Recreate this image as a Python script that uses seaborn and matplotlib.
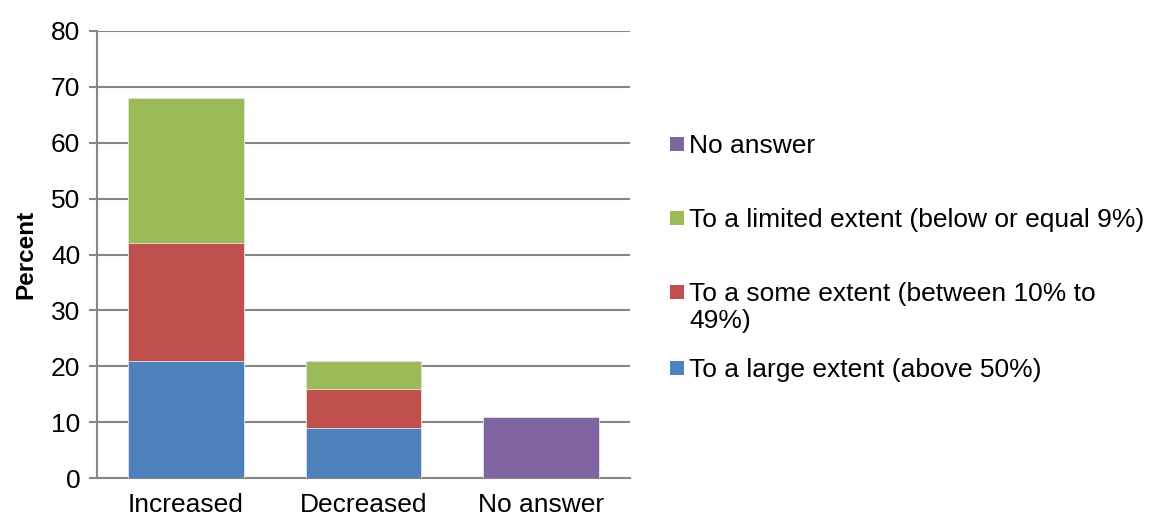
import numpy as np
import pandas as pd
import matplotlib
matplotlib.use("Agg")
import matplotlib.pyplot as plt
from matplotlib.patches import Rectangle
import seaborn as sns

# data
categories = ["Increased", "Decreased", "No answer"]
large_extent = [21, 9, 0]
some_extent = [21, 7, 0]
limited_extent = [26, 5, 0]
no_answer = [0, 0, 11]

series_names = ["To a large extent (above 50%)",
                "To a some extent (between 10% to\n49%)",
                "To a limited extent (below or equal 9%)",
                "No answer"]
colors = ["#4F81BD", "#C0504D", "#9BBB59", "#8064A2"]

sns.set_theme(style="white")
plt.rcParams["font.family"] = ["Liberation Sans", "DejaVu Sans"]
plt.rcParams["text.color"] = "black"

W, H = 1153, 519
df = pd.DataFrame({"category": categories,
                   series_names[0]: large_extent,
                   series_names[1]: some_extent,
                   series_names[2]: limited_extent,
                   series_names[3]: no_answer})

fig = plt.figure(figsize=(W / 100, H / 100), dpi=100)
ax = fig.add_axes([97 / W, 1 - 478 / H, 533 / W, 447 / H])

# stacked bars: draw cumulative totals from the top layer down
cum = df[series_names].cumsum(axis=1)
for name, c in reversed(list(zip(series_names, colors))):
    sns.barplot(x=df["category"], y=cum[name], color=c, width=0.65,
                edgecolor="#E6E6E6", linewidth=0.6, saturation=1, ax=ax,
                zorder=3)

ax.set_ylim(0, 80)
ax.set_yticks(np.arange(0, 81, 10))
ax.yaxis.grid(True, color="#868686", linewidth=1.5, zorder=0)
ax.set_axisbelow(True)
for s in ["top", "right"]:
    ax.spines[s].set_visible(False)
for s in ["left", "bottom"]:
    ax.spines[s].set_color("#868686")
    ax.spines[s].set_linewidth(1.5)
ax.tick_params(axis="y", left=True, length=6, width=1.5, color="#868686",
               labelsize=19, pad=6, labelcolor="black")
ax.tick_params(axis="x", bottom=False, labelsize=19, pad=5, labelcolor="black")
ax.set_xlabel("")
ax.set_ylabel("Percent", fontsize=17.5, fontweight="bold", labelpad=10,
              color="black")

# legend laid out like the Excel original (marker beside first line)
legend_y = [144, 218, 292, 368]
for (name, c), yc in zip(reversed(list(zip(series_names, colors))), legend_y):
    fig.add_artist(Rectangle((670 / W, 1 - (yc + 7) / H), 14 / W, 14 / H,
                             transform=fig.transFigure, facecolor=c,
                             edgecolor="none"))
    fig.text(689 / W, 1 - (yc - 10) / H, name, fontsize=19, va="top",
             ha="left", color="black", linespacing=1.15)

fig.savefig("out.png", dpi=100)
